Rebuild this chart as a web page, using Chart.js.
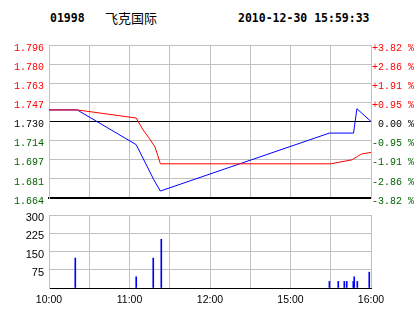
<!DOCTYPE html>
<html>
<head>
<meta charset="utf-8">
<script src="https://cdn.jsdelivr.net/npm/chart.js@4/dist/chart.umd.min.js"></script>
<style>
  body { margin: 0; background: #fff; width: 414px; height: 314px; position: relative; overflow: hidden; }
  .t { position: absolute; white-space: nowrap; line-height: 1; color: #000; }
  #code, #time { font: bold 11.5px 'DejaVu Sans Mono', monospace; top: 11px; }
  #code { left: 50px; }
  #time { left: 238px; }
  #name { left: 105px; top: 8px; font: 13px 'Noto Sans CJK SC', sans-serif; }
  canvas { position: absolute; left: 0; }
  #price-chart { top: 34px; }
  #vol-chart { top: 204px; }
</style>
</head>
<body>
<div class="t" id="code">01998</div>
<div class="t" id="name">飞克国际</div>
<div class="t" id="time">2010-12-30 15:59:33</div>
<canvas id="price-chart" width="414" height="175"></canvas>
<canvas id="vol-chart" width="414" height="110"></canvas>
<script>
// minutes since 10:00 (afternoon session continues after 12:00)
const gridMinutes = [0, 30, 60, 90, 120, 150, 180, 210, 240];
const timeTickMinutes = [0, 60, 120, 180, 240];
const timeTickLabels = ['10:00', '11:00', '12:00', '15:00', '16:00'];

// price axis, top to bottom
const priceMin = 1.664;
const priceMax = 1.796;
const priceLabels = ['1.796', '1.780', '1.763', '1.747', '1.730', '1.714', '1.697', '1.681', '1.664'];
const pctLabels = ['+3.82 %', '+2.86 %', '+1.91 %', '+0.95 %', ' 0.00 %', '-0.95 %', '-1.91 %', '-2.86 %', '-3.82 %'];

// last price (blue)
const priceMinutes = [0, 21, 65, 78, 83, 209, 227, 229.5, 240];
const priceValues = [1.740, 1.740, 1.710, 1.680, 1.670, 1.720, 1.720, 1.741, 1.730];

// average price (red)
const avgMinutes = [0, 21, 65, 70, 75, 79, 81, 83, 210, 226, 230, 233, 240];
const avgValues = [1.740, 1.740, 1.733, 1.723, 1.715, 1.708, 1.701, 1.6935, 1.6935, 1.697, 1.700, 1.702, 1.7033];

// volume
const volTicks = [0, 75, 150, 225, 300];
const volMinutes = [19.6, 65, 77.7, 83.7, 209, 215.6, 220.1, 221.9, 226.8, 227.5, 229.8, 238.7];
const volValues = [123, 46, 123, 200, 27, 27, 27, 27, 27, 46, 27, 65];

const GRID = '#c0c0c0';
const RED = '#ff0000';
const GREEN = '#006400';

const toPoints = (xs, ys) => xs.map((x, i) => ({ x: x, y: ys[i] }));
// push a tick label a few px below its grid line
const shiftDown = s => ['', s];

const priceStep = (priceMax - priceMin) / (priceLabels.length - 1);
function priceTicks(scale) {
  scale.ticks = priceLabels.map((_, i) => ({ value: priceMin + i * priceStep }));
}
function levelColor(i) {
  const top = priceLabels.length - 1 - i;
  if (top < 4) return RED;
  if (top === 4) return '#000';
  return GREEN;
}

new Chart(document.getElementById('price-chart'), {
  type: 'line',
  data: {
    datasets: [
      { data: toPoints(avgMinutes, avgValues), borderColor: RED, borderWidth: 1, pointRadius: 0, tension: 0 },
      { data: toPoints(priceMinutes, priceValues), borderColor: '#0000ff', borderWidth: 1, pointRadius: 0, tension: 0 }
    ]
  },
  options: {
    responsive: false,
    animation: false,
    events: [],
    layout: { padding: { top: 10, bottom: 6, left: 0, right: 0 } },
    plugins: { legend: { display: false }, tooltip: { enabled: false } },
    scales: {
      x: {
        type: 'linear', min: 0, max: 240,
        afterBuildTicks: s => { s.ticks = gridMinutes.map(v => ({ value: v })); },
        afterFit: s => { s.height = 0; },
        ticks: { display: false },
        grid: { color: GRID, drawTicks: false },
        border: { color: '#000', width: 2 }
      },
      y: {
        position: 'left', min: priceMin, max: priceMax,
        afterBuildTicks: priceTicks,
        afterFit: s => { s.width = 49; },
        ticks: {
          padding: 5,
          font: { family: 'Liberation Mono', size: 10, lineHeight: '6px' },
          color: ctx => levelColor(ctx.index),
          callback: (v, i) => shiftDown(priceLabels[priceLabels.length - 1 - i])
        },
        grid: { color: ctx => (ctx.index === 4 || ctx.index === 0) ? '#000' : GRID, drawTicks: false },
        border: { color: GRID }
      },
      y2: {
        position: 'right', min: priceMin, max: priceMax,
        afterBuildTicks: priceTicks,
        afterFit: s => { s.width = 43; },
        ticks: {
          padding: 1,
          font: { family: 'Liberation Mono', size: 10, lineHeight: '6px' },
          color: ctx => levelColor(ctx.index),
          callback: (v, i) => shiftDown(pctLabels[pctLabels.length - 1 - i])
        },
        grid: { display: false, drawTicks: false },
        border: { color: GRID }
      }
    }
  }
});

new Chart(document.getElementById('vol-chart'), {
  type: 'bar',
  data: {
    datasets: [{ data: toPoints(volMinutes, volValues), backgroundColor: '#0000ff', borderWidth: 0, barThickness: 1 }]
  },
  options: {
    responsive: false,
    animation: false,
    events: [],
    layout: { padding: { top: 6, bottom: 0, left: 0, right: 43 } },
    plugins: { legend: { display: false }, tooltip: { enabled: false } },
    scales: {
      x: {
        type: 'linear', min: 0, max: 240, offset: false,
        afterBuildTicks: s => { s.ticks = gridMinutes.map(v => ({ value: v })); },
        afterFit: s => { s.height = 26; },
        ticks: {
          padding: 6, autoSkip: false, maxRotation: 0, color: '#000',
          font: { family: 'Liberation Sans', size: 10.5 },
          callback: v => {
            const k = timeTickMinutes.indexOf(v);
            return k < 0 ? '' : timeTickLabels[k];
          }
        },
        grid: { color: GRID, drawTicks: false, offset: false },
        border: { color: '#000', width: 1 }
      },
      y: {
        min: 0, max: 300,
        afterBuildTicks: s => { s.ticks = volTicks.map(v => ({ value: v })); },
        afterFit: s => { s.width = 49; },
        ticks: {
          padding: 5, color: '#000',
          font: { family: 'Liberation Sans', size: 11, lineHeight: '6px' },
          callback: v => v === 0 ? '' : shiftDown(String(v))
        },
        grid: { color: GRID, drawTicks: false },
        border: { color: GRID }
      }
    }
  }
});
</script>
</body>
</html>
